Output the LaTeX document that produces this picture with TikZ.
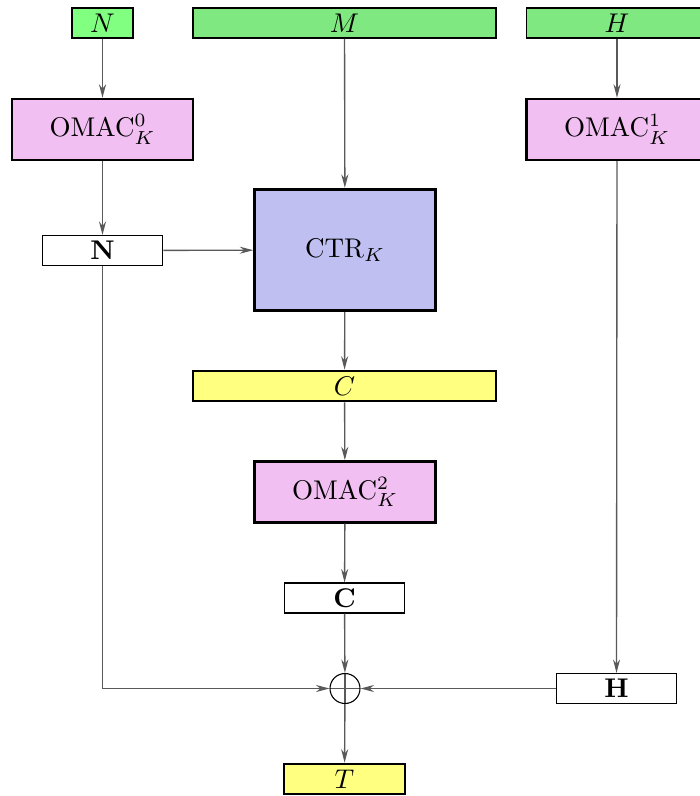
\documentclass[tikz,border=0pt]{standalone}
\usetikzlibrary{arrows.meta}
\definecolor{noncegreen}{RGB}{128,255,128}
\definecolor{msggreen}{RGB}{128,232,128}
\definecolor{omacpink}{RGB}{242,191,242}
\definecolor{ctrblue}{RGB}{191,191,242}
\definecolor{outyellow}{RGB}{255,255,128}
\tikzset{
  inbox/.style={draw, inner sep=0pt, minimum height=0.39cm, line width=0.5pt},
  widebox/.style={inbox, minimum width=3.94cm},
  tagbox/.style={draw, inner sep=0pt, minimum width=1.57cm, minimum height=0.39cm, line width=0.4pt, fill=white},
  omacbox/.style={draw, line width=1pt, fill=omacpink, inner sep=0pt, minimum width=2.35cm, minimum height=0.79cm},
  flow/.style={draw=black!65, line width=0.5pt, -{Stealth[length=5pt,width=2.6pt]}},
  xorop/.style={draw, circle, line width=0.4pt, inner sep=0pt, minimum size=0.39cm,
    path picture={\draw[black!65, line width=0.4pt] (path picture bounding box.north) -- (path picture bounding box.south)
      (path picture bounding box.west) -- (path picture bounding box.east);}}
}
\begin{document}
\begin{tikzpicture}[x=0.013cm,y=-0.013cm]
  \useasboundingbox (0,0) rectangle (699,796);
  % inputs
  \node[inbox, fill=noncegreen, minimum width=0.79cm] (nin) at (102.5,23) {$N$};
  \node[widebox, fill=msggreen] (min) at (344.5,23) {$M$};
  \node[widebox, fill=msggreen, minimum width=2.36cm] (hin) at (617,23) {$H$};
  % blocks
  \node[omacbox] (omac0) at (102.5,129.5) {OMAC$^0_K$};
  \node[omacbox] (omac1) at (617,129.5) {OMAC$^1_K$};
  \node[tagbox] (nbold) at (102.5,250.5) {$\mathbf{N}$};
  \node[omacbox, fill=ctrblue, minimum height=1.58cm] (ctr) at (345,250) {CTR$_K$};
  \node[widebox, fill=outyellow, line width=1pt] (cout) at (344.5,386) {$C$};
  \node[omacbox] (omac2) at (345,492) {OMAC$^2_K$};
  \node[tagbox] (cbold) at (344.5,598) {$\mathbf{C}$};
  \node[xorop] (xor) at (345,688.5) {};
  \node[tagbox] (hbold) at (616.5,688.5) {$\mathbf{H}$};
  \node[tagbox, fill=outyellow, line width=1pt] (tout) at (344.5,779) {$T$};
  % connectors
  \draw[flow] (nin) -- (omac0);
  \draw[flow] (omac0) -- (nbold);
  \draw[flow] (nbold) -- (ctr);
  \draw[flow] (min) -- (ctr);
  \draw[flow] (ctr) -- (cout);
  \draw[flow] (cout) -- (omac2);
  \draw[flow] (omac2) -- (cbold);
  \draw[flow] (cbold) -- (xor);
  \draw[flow] (nbold.south) |- (xor.west);
  \draw[flow] (hin) -- (omac1);
  \draw[flow] (omac1) -- (hbold);
  \draw[flow] (hbold) -- (xor);
  \draw[flow] (xor) -- (tout);
\end{tikzpicture}
\end{document}
